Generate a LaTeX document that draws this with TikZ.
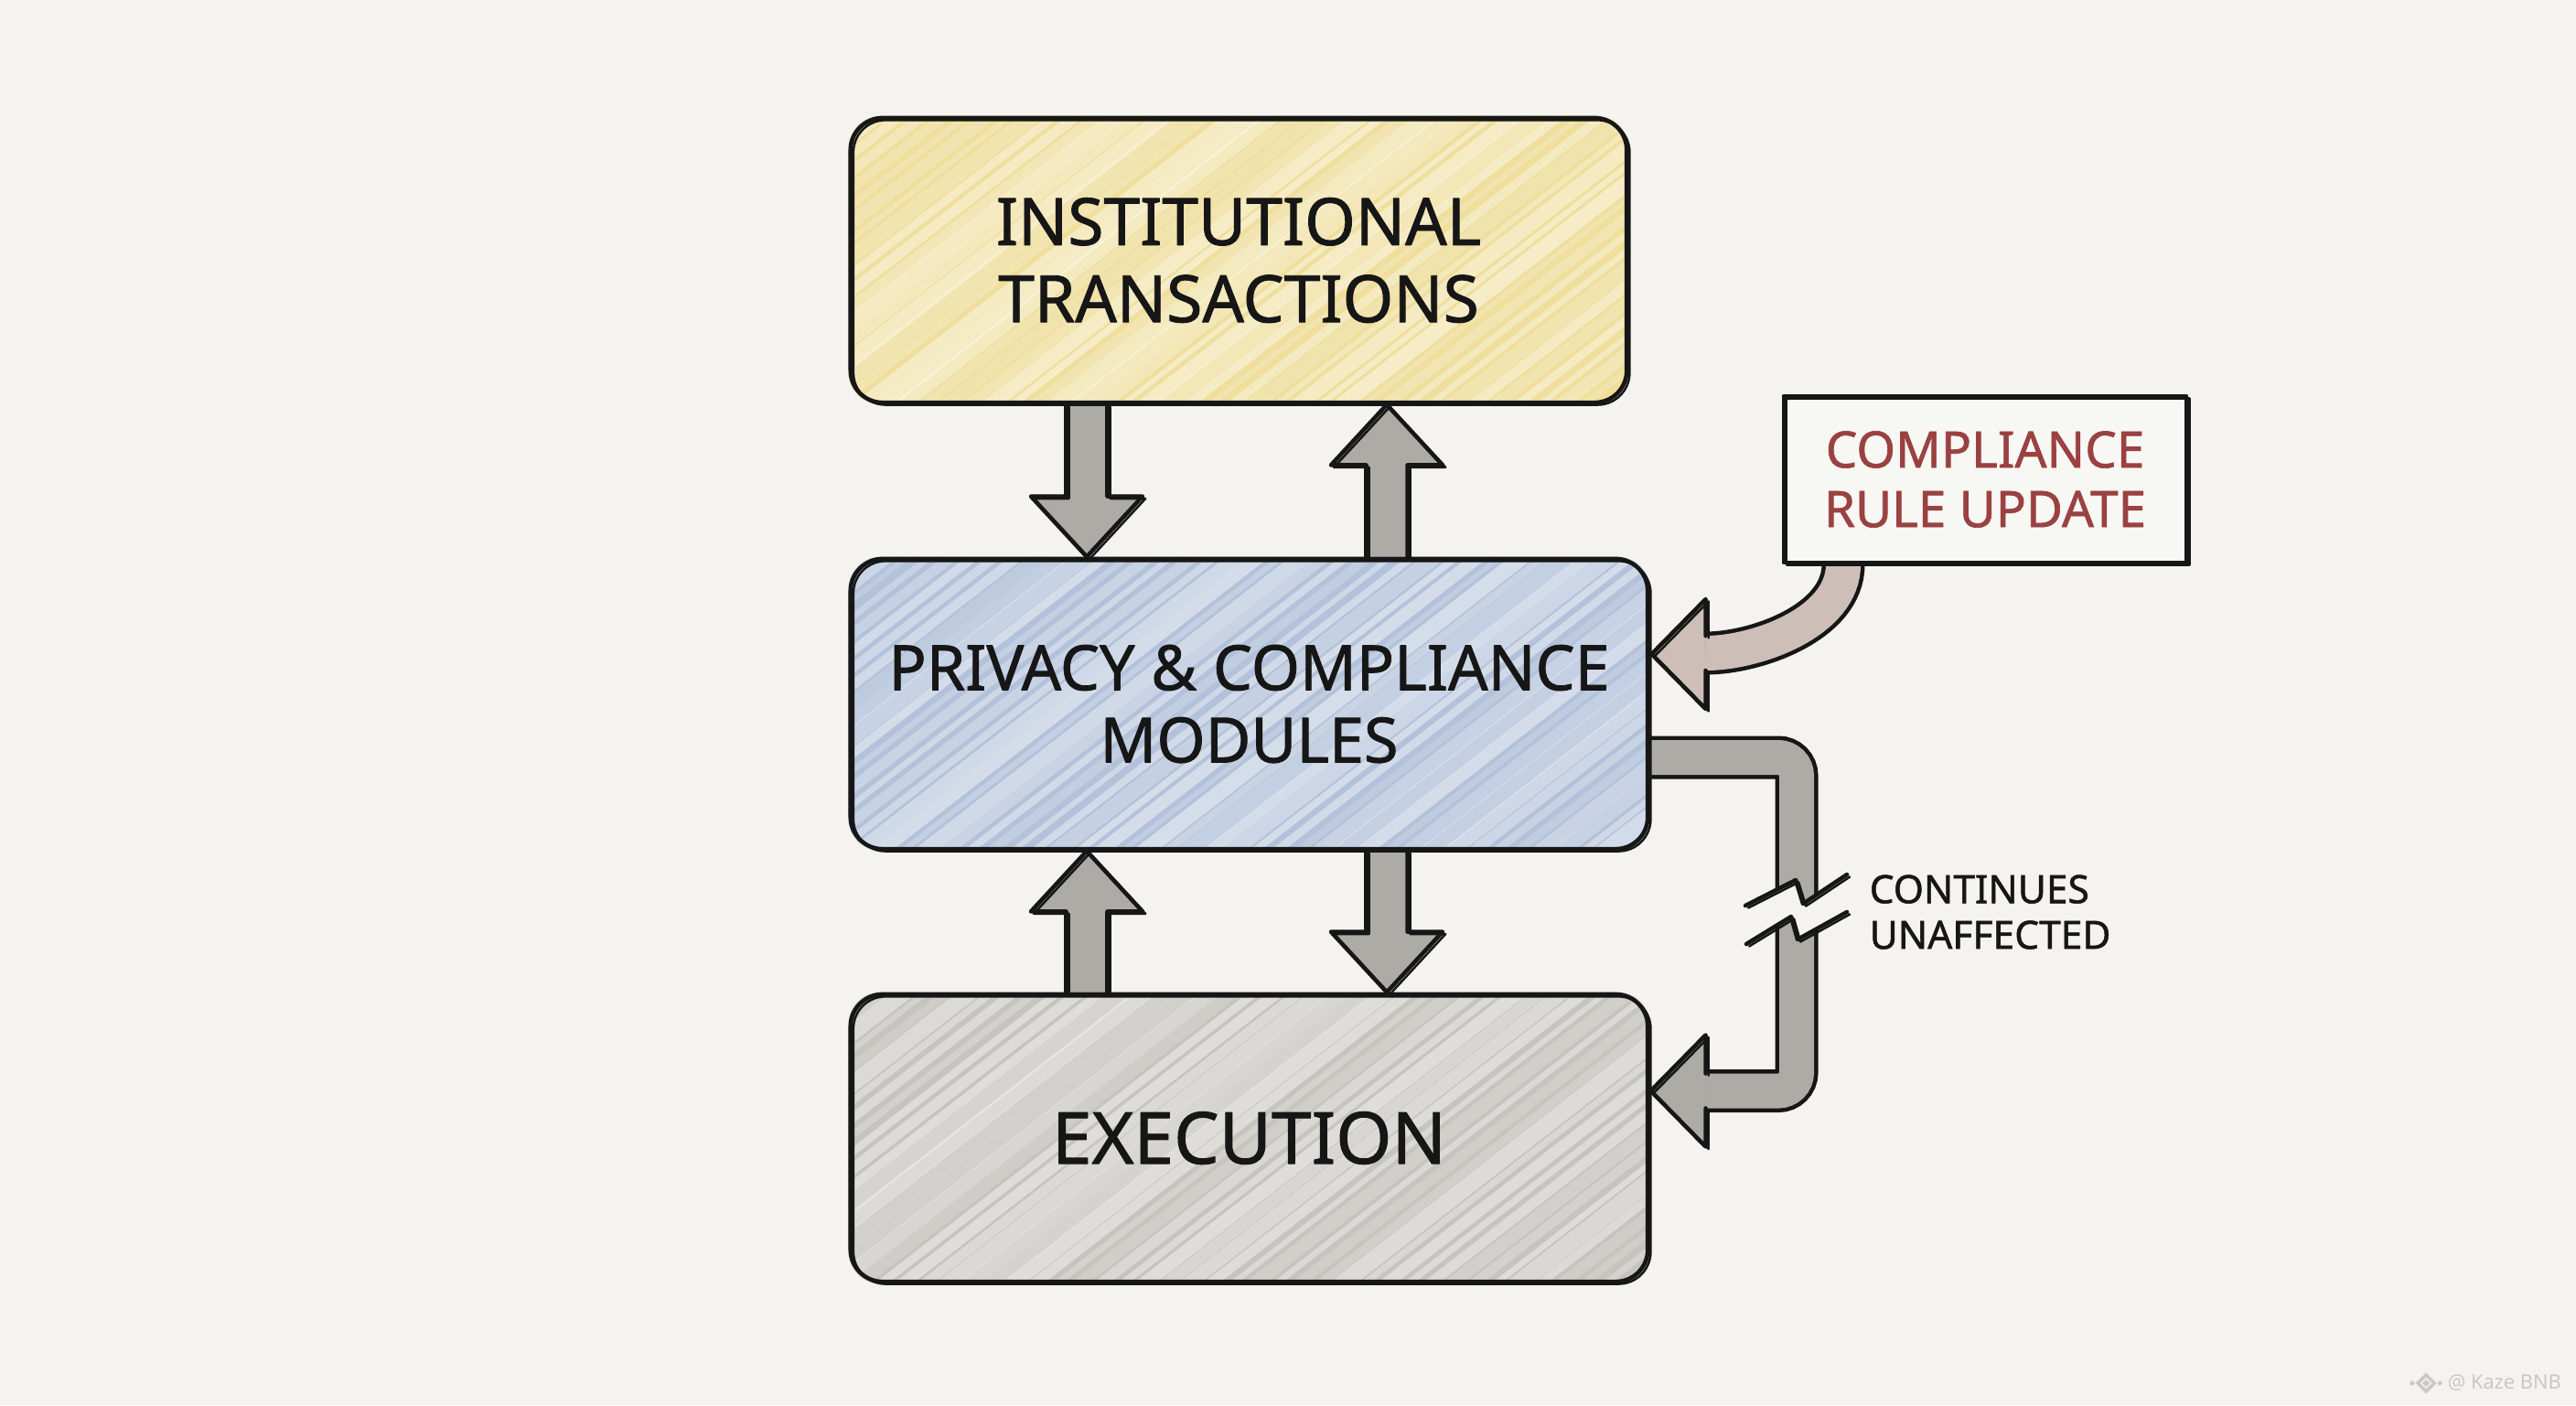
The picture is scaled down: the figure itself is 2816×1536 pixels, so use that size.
\documentclass[tikz,border=0pt]{standalone}
\usepackage{fontspec}
\setmainfont{Noto Sans}[RawFeature={embolden=1.2}]
\newfontfamily\wmfont{Noto Sans}
\usetikzlibrary{calc}
\pgfdeclarelayer{paper}
\pgfdeclarelayer{hatch}
\pgfdeclarelayer{arrows}
\pgfsetlayers{paper,hatch,arrows,main}
\definecolor{paperbg}{HTML}{F4F3EF}
\definecolor{ink}{HTML}{161616}
\definecolor{yel}{HTML}{EFDE9C}
\definecolor{blu}{HTML}{B3C2DA}
\definecolor{gry}{HTML}{C6C4BE}
\definecolor{arr}{HTML}{ADABA6}
\definecolor{pnk}{HTML}{CDBEB8}
\definecolor{rulered}{HTML}{9B4141}
\definecolor{wmark}{HTML}{CAC8C3}
\tikzset{
  sk/.style={draw=ink, line width=1.3pt, line join=round, line cap=round,
    postaction={draw=ink, line width=0.7pt, transform canvas={xshift=0.9pt,yshift=-0.7pt}}},
  box/.style={sk, rounded corners=0.35cm, inner sep=0pt, text=ink, align=center},
  blk/.style={sk, fill=arr},
}
\newcommand\boxfill[4]{% node, base colour, streak colour, corner radius
  \begin{pgfonlayer}{hatch}
    \fill[#2, rounded corners=#4] (#1.north west) rectangle (#1.south east);
    \begin{scope}
      \clip[rounded corners=#4] (#1.north west) rectangle (#1.south east);
      \foreach \k in {0,...,72}{
        \pgfmathsetmacro\w{1.5+4*rnd}
        \pgfmathsetmacro\o{0.15+0.3*rnd}
        \draw[#3, line width=\w pt, opacity=\o] ($(#1.south west)+(\k*24-520,40)$) -- ++(900,-700);
      }
    \end{scope}
  \end{pgfonlayer}}
\newcommand\vblock[3]{% from, tip, head offset (canvas)
  \path[blk] let \p1=(#1), \p2=(#2) in
    (\x1-0.225cm,\y1) -- (\x1-0.225cm,{\y2+(#3)}) -- (\x1-0.61cm,{\y2+(#3)}) -- (\x2,\y2)
    -- (\x1+0.61cm,{\y2+(#3)}) -- (\x1+0.225cm,{\y2+(#3)}) -- (\x1+0.225cm,\y1);}
\begin{document}
\begin{tikzpicture}[x=0.01cm,y=-0.01cm]
\pgfmathsetseed{7}
\useasboundingbox (0,0) rectangle (2816,1536);
\begin{pgfonlayer}{paper}
  \fill[paperbg] (0,0) rectangle (2816,1536);
\end{pgfonlayer}

% boxes
\node[box, minimum width=8.48cm, minimum height=3.11cm,
      font=\fontsize{20.3}{24}\selectfont] (inst) at (1354,284.5) {INSTITUTIONAL\\TRANSACTIONS};
\node[box, minimum width=8.71cm, minimum height=3.17cm,
      font=\fontsize{19.4}{22.5}\selectfont] (priv) at (1365.5,769.5) {PRIVACY \& COMPLIANCE\\MODULES};
\node[box, minimum width=8.71cm, minimum height=3.14cm,
      font=\fontsize{22.3}{26}\selectfont] (exec) at (1365.5,1244) {EXECUTION};
\node[sk, inner sep=0pt, minimum width=4.4cm, minimum height=1.82cm, align=center,
      text=rulered, font=\fontsize{15.6}{18.5}\selectfont] (rule) at (2170,524) {COMPLIANCE\\RULE UPDATE};

\boxfill{inst}{yel}{white}{0.35cm}
\boxfill{priv}{blu}{white}{0.35cm}
\boxfill{exec}{gry}{white}{0.35cm}
\begin{pgfonlayer}{hatch}
  \fill[white, opacity=0.35] (rule.north west) rectangle (rule.south east);
\end{pgfonlayer}

% vertical block arrows
\coordinate (xl) at (1188,0);
\coordinate (xr) at (1516,0);
\begin{pgfonlayer}{arrows}
  \vblock{inst.south -| xl}{priv.north -| xl}{0.66cm}
  \vblock{priv.north -| xr}{inst.south -| xr}{-0.66cm}
  \vblock{exec.north -| xl}{priv.south -| xl}{-0.66cm}
  \vblock{priv.south -| xr}{exec.north -| xr}{0.66cm}

  % loop arrow: privacy -> execution
  \coordinate (ls) at ($(priv.east)+(0,58.5)$);
  \coordinate (le) at ($(exec.east)+(61,-51.5)$);
  \coordinate (lt) at ($(exec.east)+(1,-51.5)$);
  \coordinate (lx) at (1964,0);
  \draw[ink, line width=0.47cm, rounded corners=0.2cm] (ls) -- (ls -| lx) -- (lx |- le) -- (le);
  \draw[arr, line width=0.38cm, rounded corners=0.2cm] (ls) -- (ls -| lx) -- (lx |- le) -- (le);
  \fill[arr] ($(le)+(0,-61)$) -- (lt) -- ($(le)+(0,61)$) -- cycle;
  \draw[sk] ($(le)+(0,-19)$) -- ($(le)+(0,-61)$) -- (lt) -- ($(le)+(0,61)$) -- ($(le)+(0,19)$);

  % curved arrow: rule update -> privacy
  \coordinate (cs) at ($(rule.south)+(-155,0)$);
  \coordinate (ce) at ($(priv.east)+(61,-55.5)$);
  \coordinate (ct) at ($(priv.east)+(2,-54.5)$);
  \draw[ink, line width=0.47cm] (cs) .. controls (2015,680) and (1920,714) .. (ce);
  \draw[pnk, line width=0.38cm] (cs) .. controls (2015,680) and (1920,714) .. (ce);
  \fill[pnk] ($(ce)+(0,-59)$) -- (ct) -- ($(ce)+(0,61)$) -- cycle;
  \draw[sk] ($(ce)+(0,-19)$) -- ($(ce)+(0,-59)$) -- (ct) -- ($(ce)+(0,61)$) -- ($(ce)+(0,19)$);
\end{pgfonlayer}

% break in the loop
\fill[paperbg] (1908,990) -- (1963,962) -- (1971,988) -- (2019,956) -- (2019,997)
  -- (1965,1027) -- (1958,1002) -- (1909,1032) -- cycle;
\draw[sk] (1908,990) -- (1963,962) -- (1971,988) -- (2019,956);
\draw[sk] (1909,1032) -- (1958,1002) -- (1965,1027) -- (2019,997);

\node[anchor=west, align=left, inner sep=0pt, text=ink,
      font=\fontsize{12.1}{14.2}\selectfont] (cont) at (2043,997) {CONTINUES\\UNAFFECTED};

% watermark
\draw[wmark, line width=1pt] (2652,1503) -- (2661,1512) -- (2652,1521) -- (2643,1512) -- cycle;
\fill[wmark] (2652,1508) -- (2656,1512) -- (2652,1516) -- (2648,1512) -- cycle;
\fill[wmark] (2637,1509) -- (2640,1512) -- (2637,1515) -- (2634,1512) -- cycle;
\fill[wmark] (2667,1509) -- (2670,1512) -- (2667,1515) -- (2664,1512) -- cycle;
\node[anchor=west, inner sep=0pt, text=wmark, font=\wmfont\fontsize{6.2}{8}\selectfont] (wm) at (2675,1512) {@ Kaze BNB};
\end{tikzpicture}
\end{document}
